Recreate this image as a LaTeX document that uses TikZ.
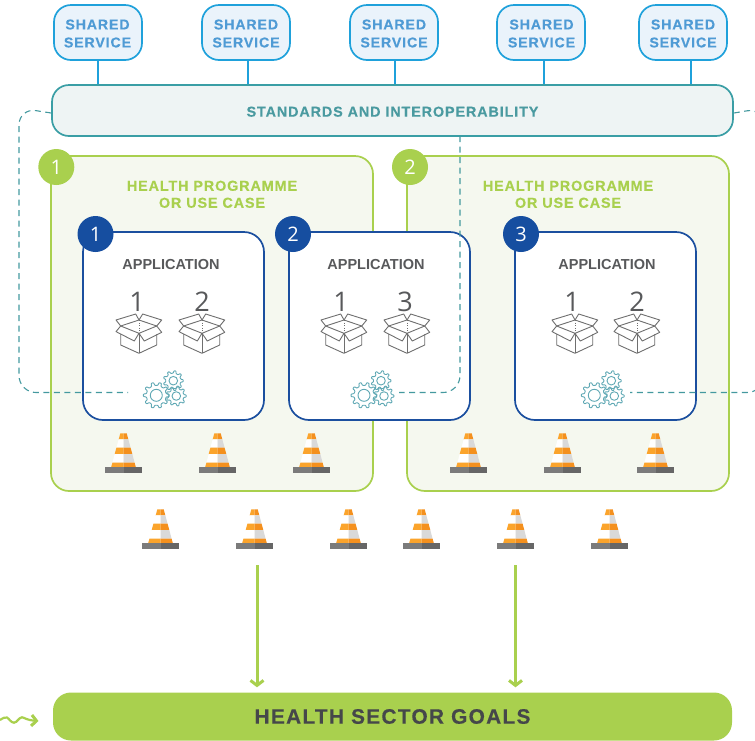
\documentclass[tikz,border=0pt]{standalone}
\usepackage{fontspec}
\setmainfont{Liberation Sans}
\newfontfamily\lab[LetterSpace=6,BoldFeatures={FakeBold=0.3}]{Liberation Sans}
\newfontfamily\dig{Open Sans}
\usetikzlibrary{arrows.meta,calc}
\definecolor{grn}{HTML}{A9D04E}
\definecolor{grnbg}{HTML}{F5F8EF}
\definecolor{blu}{HTML}{1FA1DB}
\definecolor{blubg}{HTML}{EAF3FB}
\definecolor{blutx}{HTML}{4F9BD5}
\definecolor{teal}{HTML}{3A9EA5}
\definecolor{tealbg}{HTML}{EEF4F4}
\definecolor{tealtx}{HTML}{4A9AA0}
\definecolor{navy}{HTML}{1B4F9F}
\definecolor{navyf}{HTML}{164EA0}
\definecolor{graytx}{HTML}{58595B}
\definecolor{darktx}{HTML}{45474A}
\definecolor{boxc}{HTML}{6F6F6F}
\definecolor{gearc}{HTML}{5FA8B4}
\definecolor{orL}{HTML}{FBA42C}
\definecolor{orR}{HTML}{F4901E}
\definecolor{whR}{HTML}{D9D9D9}
\definecolor{baseL}{HTML}{7B7B7B}
\definecolor{baseR}{HTML}{666666}
\tikzset{
  svc/.style={draw=blu,fill=blubg,line width=1.7pt,rounded corners=17pt,minimum width=88pt,minimum height=55pt,inner sep=0pt},
  svctext/.style={inner sep=0pt,align=center,text=blutx,font=\fontsize{14.2}{18}\selectfont\lab\bfseries},
  std/.style={draw=teal,fill=tealbg,line width=1.7pt,rounded corners=17pt,minimum width=681pt,minimum height=51pt,inner sep=0pt},
  stdtext/.style={inner sep=0pt,text=tealtx,font=\fontsize{14.4}{18}\selectfont\lab\bfseries},
  prog/.style={draw=grn,fill=grnbg,line width=1.7pt,rounded corners=18pt,minimum width=322pt,minimum height=335pt,inner sep=0pt},
  proglabel/.style={inner sep=0pt,align=center,text=grn,font=\fontsize{14.4}{17}\selectfont\lab\bfseries},
  appbox/.style={draw=navy,fill=white,line width=1.7pt,rounded corners=20pt,minimum width=181pt,minimum height=188pt,inner sep=0pt},
  applabel/.style={inner sep=0pt,text=graytx,font=\fontsize{14.5}{17}\selectfont\bfseries},
  grnbadge/.style={circle,fill=grn,minimum size=36pt,inner sep=0pt,text=white,font=\fontsize{20}{20}\selectfont\dig},
  navybadge/.style={circle,fill=navyf,minimum size=36pt,inner sep=0pt,text=white,font=\fontsize{20}{20}\selectfont\dig},
  num/.style={inner sep=0pt,text=graytx,font=\fontsize{27}{27}\selectfont\dig},
  svcline/.style={draw=blu,line width=1.7pt},
  dashline/.style={draw=teal!85!gray,line width=1.1pt,dash pattern=on 6pt off 4.5pt,rounded corners=17pt},
  goalarrow/.style={draw=grn,line width=3pt,-{Straight Barb[length=5pt,width=13pt,line width=3pt]}},
  goalbar/.style={fill=grn,rounded corners=18pt,minimum width=679pt,minimum height=48pt,inner sep=0pt,text=darktx,font=\fontsize{20.9}{24}\selectfont\lab\bfseries},
  gearline/.style={draw=gearc,line width=.9pt,line join=round},
  boxline/.style={draw=boxc,line width=.9pt,line join=round},
  pics/cone/.style={code={
    \fill[orL] (-3.2,0) -- (0,0) -- (0,6) -- (-4.8,6) -- cycle;
    \fill[orR] (3.2,0) -- (0,0) -- (0,6) -- (4.8,6) -- cycle;
    \fill[white] (-4.8,6) -- (0,6) -- (0,14.4) -- (-7.1,14.4) -- cycle;
    \fill[whR] (4.8,6) -- (0,6) -- (0,14.4) -- (7.1,14.4) -- cycle;
    \fill[orL] (-7.1,14.4) -- (0,14.4) -- (0,20.7) -- (-8.8,20.7) -- cycle;
    \fill[orR] (7.1,14.4) -- (0,14.4) -- (0,20.7) -- (8.8,20.7) -- cycle;
    \fill[white] (-8.8,20.7) -- (0,20.7) -- (0,29.4) -- (-11.1,29.4) -- cycle;
    \fill[whR] (8.8,20.7) -- (0,20.7) -- (0,29.4) -- (11.1,29.4) -- cycle;
    \fill[orL] (-11.1,29.4) -- (0,29.4) -- (0,33.7) -- (-12.3,33.7) -- cycle;
    \fill[orR] (11.1,29.4) -- (0,29.4) -- (0,33.7) -- (12.3,33.7) -- cycle;
    \fill[baseL] (-18.5,33.7) rectangle (0,39.7);
    \fill[baseR] (0,33.7) rectangle (18.5,39.7);
  }},
  pics/openbox/.style={code={
    \draw[boxline] (-18.3,.7) -- (-18.3,11.7) -- (0,20) -- (17.7,11.7) -- (17.7,.7);
    \draw[boxline] (0,0) -- (0,20);
    \draw[boxline] (-18.3,-7.3) -- (0,-13.3) -- (17.7,-7.3);
    \draw[boxline] (-18.3,-7.3) -- (-23,-13.3) -- (-3.3,-19.3) -- (0,-13.3) -- (3.7,-19.3) -- (22.7,-13.3) -- (17.7,-7.3);
    \draw[boxline] (0,0) -- (-18.3,-7.3) -- (-23,-1.7) -- (-4.7,7.7) -- cycle;
    \draw[boxline] (0,0) -- (17.7,-7.3) -- (22.7,-1) -- (5.3,7.7) -- cycle;
    \draw[boxc,line width=.6pt,dotted] (0,-13.3) -- (0,0);
  }},
  pics/gears/.style={code={
    \foreach \gx/\gy/\ro/\ri/\rh/\nt in {0/0/13/10/6/10,17/-14.6/10/7.6/4.3/9,20/.7/10/7.6/4.3/9}{
      \begin{scope}[shift={(\gx,\gy)}]
        \pgfmathsetmacro{\stp}{360/\nt}
        \draw[gearline,rounded corners=.6pt] (-.27*\stp:\ri)
          \foreach \k in {1,...,\nt}{
            -- ({(\k-1)*\stp-.15*\stp}:\ro) -- ({(\k-1)*\stp+.15*\stp}:\ro)
            -- ({(\k-1)*\stp+.27*\stp}:\ri) -- ({\k*\stp-.27*\stp}:\ri)
          } -- cycle;
        \draw[gearline] (0,0) circle[radius=\rh];
      \end{scope}
    }
  }},
}
\begin{document}
\begin{tikzpicture}[x=1pt,y=-1pt]
\useasboundingbox (0,0) rectangle (755,740);
\clip (0,0) rectangle (755,740);

% goals
\node[goalbar] (goals) at (392.5,716.5) {HEALTH SECTOR GOALS};

% programmes
\node[prog] (p1) at (212,323.5) {};
\node[prog] (p2) at (568,323.5) {};
\node[proglabel] (pl1) at (212,194.3) {HEALTH PROGRAMME\\OR USE CASE};
\node[proglabel] (pl2) at (568,194.3) {HEALTH PROGRAMME\\OR USE CASE};

% applications
\node[appbox] (a1) at (173.5,326) {};
\node[appbox] (a2) at (379.5,326) {};
\node[appbox] (a3) at (605.5,326) {};
\node[applabel] (al1) at (171,265) {APPLICATION};
\node[applabel] (al2) at (376,265) {APPLICATION};
\node[applabel] (al3) at (607,265) {APPLICATION};

% standards
\node[std] (stdbar) at (392.5,110.5) {};
\node[stdtext] (stdlabel) at (392.5,111.7) {STANDARDS AND INTEROPERABILITY};

% services
\node[svc] (s1) at (98,32.5) {};
\node[svc] (s2) at (246,32.5) {};
\node[svc] (s3) at (394,32.5) {};
\node[svc] (s4) at (541,32.5) {};
\node[svc] (s5) at (683,32.5) {};
\node[svctext] (st1) at (97.5,33.5) {SHARED\\SERVICE};
\node[svctext] (st2) at (246,33.5) {SHARED\\SERVICE};
\node[svctext] (st3) at (394,33.5) {SHARED\\SERVICE};
\node[svctext] (st4) at (541.5,33.5) {SHARED\\SERVICE};
\node[svctext] (st5) at (683,33.5) {SHARED\\SERVICE};
\draw[svcline] (s1.south) -- (s1.south |- stdbar.north);
\draw[svcline] ([xshift=2pt]s2.south) -- ([xshift=2pt]s2.south |- stdbar.north);
\draw[svcline] ([xshift=1pt]s3.south) -- ([xshift=1pt]s3.south |- stdbar.north);
\draw[svcline] ([xshift=3pt]s4.south) -- ([xshift=3pt]s4.south |- stdbar.north);
\draw[svcline] ([xshift=8pt]s5.south) -- ([xshift=8pt]s5.south |- stdbar.north);

% badges
\node[grnbadge] (g1) at (56.3,167) {1};
\node[grnbadge] (g2) at (410,167) {2};
\node[navybadge] (n1) at (95.5,234) {1};
\node[navybadge] (n2) at (293,234) {2};
\node[navybadge] (n3) at (521,234) {3};

% numbers and boxes
\node[num] (d11) at (137,301.5) {1};
\node[num] (d12) at (202,301.5) {2};
\node[num] (d21) at (341,301.5) {1};
\node[num] (d22) at (405,301.5) {3};
\node[num] (d31) at (572,301.5) {1};
\node[num] (d32) at (637,301.5) {2};
\foreach \bx in {139,202,344,407,575,637}{ \pic at (\bx,333.3) {openbox}; }

% gears
\foreach \gx in {156.3,364,594.3}{ \pic at (\gx,395.3) {gears}; }

% cones
\foreach \cx in {123.5,217.5,311.5,468.5,562.5,655.5}{ \pic at (\cx,433.3) {cone}; }
\foreach \cx in {160.5,254.5,348.5,421.5,515.5,609.5}{ \pic at (\cx,509.3) {cone}; }

% dashed links
\coordinate (gl) at (128,392.5);
\coordinate (gm) at (399,392.5);
\coordinate (gr) at (630,392.5);
\draw[dashline] ([yshift=-2.5pt]stdbar.west) -- (19,108) -- (19,392.5) -- (gl);
\draw[dashline] (460,136) -- (460,392.5) -- (gm);
\draw[dashline] ([yshift=-2.5pt]stdbar.east) -- (764,108) -- (764,392.5) -- (gr);

% arrows
\coordinate (c1) at (257,565);
\coordinate (c2) at (515.5,565);
\draw[goalarrow,shorten >=5pt] (c1) -- (c1 |- goals.north);
\draw[goalarrow,shorten >=5pt] (c2) -- (c2 |- goals.north);
\coordinate (w0) at (0,720);
\coordinate (w1) at (38.5,721);
\draw[draw=grn,line width=2.2pt,-{Straight Barb[length=5pt,width=11pt,line width=3pt]}]
  (w0) .. controls (3,718) and (5,717) .. (7,717.5) .. controls (9,718.5) and (11,722.7) .. (14,722.7)
  .. controls (17,722.7) and (19,717.3) .. (22,717.3) .. controls (24,717.3) and (26,720) .. (w1);
\end{tikzpicture}
\end{document}
